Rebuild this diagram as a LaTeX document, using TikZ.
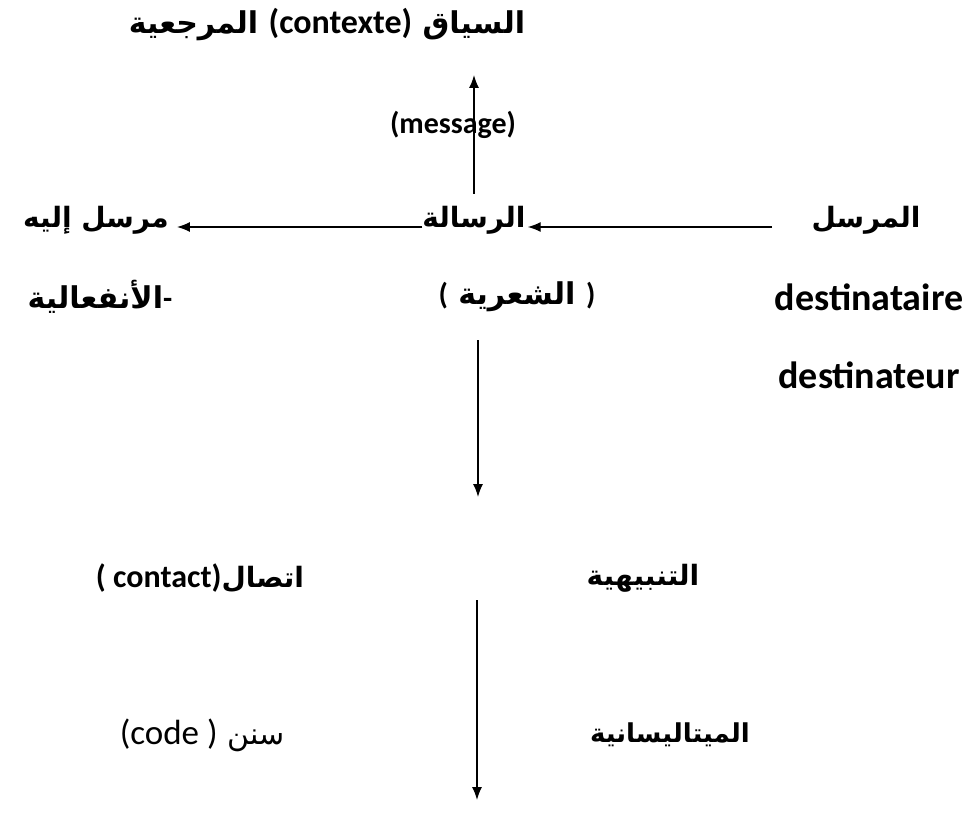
\documentclass[tikz,border=0pt]{standalone}
\usepackage{fontspec}
\setmainfont{Carlito}
\newfontfamily\arabicfont[Script=Arabic]{DejaVu Sans}
\TeXXeTstate=1
\usetikzlibrary{arrows.meta,positioning}
\newcommand{\lt}[1]{{\normalfont\bfseries #1}}
\tikzset{
	ar/.style={font=\arabicfont\bfseries\fontsize{28}{32}\selectfont, inner sep=0pt},
	lat/.style={font=\bfseries\fontsize{38}{42}\selectfont, inner sep=0pt},
	flow/.style={line width=1.4pt, -{Latex[length=13pt,width=10pt]}},
}
\begin{document}
\begin{tikzpicture}[x=1pt,y=-1pt]
			\useasboundingbox (0,0) rectangle (969,821);
			
			\node[ar, font=\arabicfont\bfseries\fontsize{30}{34}\selectfont] (ctx) at (327,25) {\beginR السياق \beginL\lt{\fontsize{34}{38}\selectfont(contexte)}\endL{} المرجعية\endR};
			\node[lat, font=\bfseries\fontsize{30}{34}\selectfont] (msg) at (453,125) {(message)};
			
			\node[ar] (ris) at (474,220) {\beginR الرسالة\endR};
			\node[ar] (ilayh) at (96,220) {\beginR مرسل إليه\endR};
			\node[ar] (mursil) at (866,220) {\beginR المرسل\endR};
			\coordinate (from) at (772,227);
			
			\node[ar, font=\arabicfont\bfseries\fontsize{30}{34}\selectfont] (infi) at (100,297) {{\beginR الأنفعالية\endR}\lt{-}};
			\node[ar, font=\arabicfont\bfseries\fontsize{30}{34}\selectfont] (shi) at (517,297) {\lt{(} {\beginR الشعرية\endR} \lt{)}};
			\node[lat] (dest1) at (869,297) {destinataire};
			\node[lat, below of=dest1, node distance=78pt] (dest2) {destinateur};
			
			\node[ar] (tanb) at (643,578) {\beginR التنبيهية\endR};
			\node[ar] (ittisal) at (200,578) {\beginR اتصال\beginL\lt{\fontsize{32}{36}\selectfont( contact)}\endL\endR};
			
			\node[ar, font=\arabicfont\bfseries\fontsize{26}{30}\selectfont] (meta) at (670,735) {\beginR الميتاليسانية\endR};
			\node[ar, font=\arabicfont\fontsize{30}{34}\selectfont] (sanan) at (202,735) {\beginR سنن \beginL{\normalfont\fontsize{35}{38}\selectfont(code )}\endL\endR};
			
			\coordinate (up) at (474,75);
			\coordinate (d1) at (478,340);
			\coordinate (d1e) at (478,497);
			\coordinate (d2) at (477,600);
			\coordinate (d2e) at (477,800);
			
			\draw[flow] ([yshift=12pt]ris.north) -- (up);
			\draw[flow, shorten >=8pt] ([yshift=-7pt]ris.west) -- ([yshift=-7pt]ilayh.east);
			\draw[flow, shorten >=2pt] (from) -- ([yshift=-7pt]ris.east);
			\draw[flow] (d1) -- (d1e);
			\draw[flow] (d2) -- (d2e);
		\end{tikzpicture}
\end{document}
